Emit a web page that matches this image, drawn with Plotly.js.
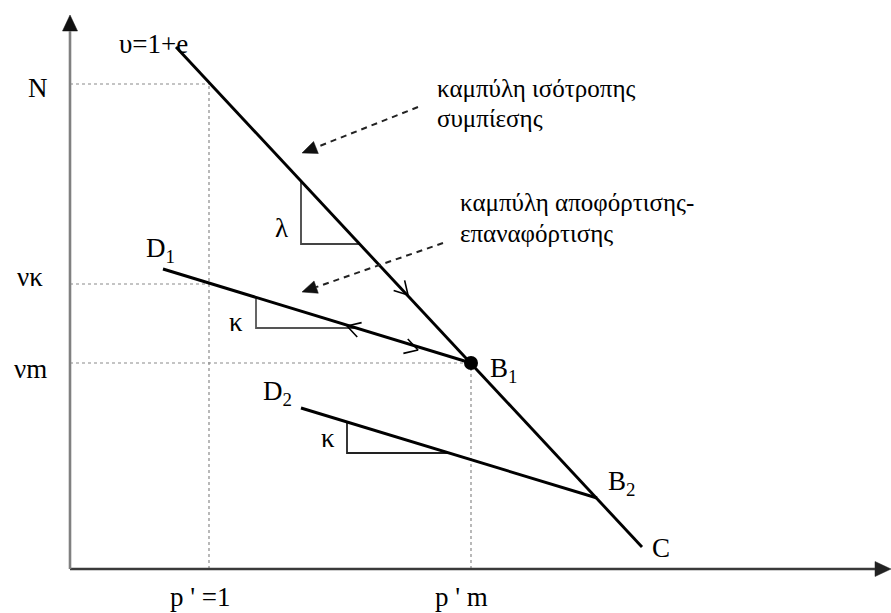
<!DOCTYPE html>
<html>
<head>
<meta charset="utf-8">
<script src="https://cdn.plot.ly/plotly-3.0.1.min.js"></script>
<style>
  html, body { margin: 0; padding: 0; background: #fff; }
  #plot { width: 891px; height: 613px; }
</style>
</head>
<body>
<div id="plot"></div>
<script>
// Schematic v – p' plane (arbitrary units, origin at the axes corner)

// Normal (isotropic) compression line, from the υ=1+e end down to C
const nclX = [1.06, 5.72];
const nclY = [5.22, 0.22];

// Unloading–reloading line D1 – B1
const url1X = [0.93, 4.01];
const url1Y = [3.00, 2.06];

// Unloading–reloading line D2 – B2
const url2X = [2.31, 5.27];
const url2Y = [1.61, 0.71];

// Point B1 (p'm, νm)
const b1X = [4.01];
const b1Y = [2.06];

// Reference levels
const levelN = 4.85;      // N
const levelVk = 2.85;     // νκ
const pUnit = 1.39;       // p' = 1

// Slope triangles
const lambdaTriX = [2.31, 2.31, 2.90];
const lambdaTriY = [3.88, 3.25, 3.25];
const kappa1TriX = [1.86, 1.86, 2.86];
const kappa1TriY = [2.72, 2.41, 2.41];
const kappa2TriX = [2.77, 2.77, 3.79];
const kappa2TriY = [1.47, 1.16, 1.16];

// Direction chevrons on the lines: tip position and the line they sit on
const chevronX = [3.38, 2.77, 3.48];
const chevronY = [2.74, 2.43, 2.19];
const chevronLine = ['ncl', 'url1Back', 'url1'];

// Dashed pointer arrows (start -> tip)
const pointerStartX = [3.48, 3.73];
const pointerStartY = [4.62, 3.26];
const pointerTipX = [2.32, 2.32];
const pointerTipY = [4.16, 2.77];

// Text labels
const labelText = ['υ=1+e', 'N', 'λ', 'D<sub>1</sub>', 'νκ', 'κ', 'νm', 'B<sub>1</sub>',
                   'D<sub>2</sub>', 'κ', 'B<sub>2</sub>', 'C', "p ' =1", "p ' m"];
const labelX = [0.83, -0.32, 2.11, 0.90, -0.40, 1.66, -0.40, 4.33, 2.07, 2.58, 5.51, 5.91, 1.30, 3.91];
const labelY = [5.25, 4.81, 3.41, 3.19, 2.92, 2.47, 2.00, 1.99, 1.76, 1.31, 0.86, 0.21, -0.28, -0.28];

const noteText = ['καμπύλη ισότροπης', 'συμπίεσης', 'καμπύλη αποφόρτισης-', 'επαναφόρτισης'];
const noteX = [3.65, 3.65, 3.88, 3.88];
const noteY = [4.81, 4.51, 3.67, 3.36];

// Axis extents (arrow tips)
const xAxisEnd = 8.21;
const yAxisEnd = 5.54;

const serif = '"Liberation Serif", "Times New Roman", "DejaVu Serif", serif';
const traces = [];

function line(x, y, color, width, dash) {
  traces.push({
    type: 'scatter', mode: 'lines', x: x, y: y, hoverinfo: 'skip',
    line: { color: color, width: width, dash: dash || 'solid' }
  });
}

// filled arrowhead with its tip at (tx, ty), pointing along (dx, dy)
function head(tx, ty, dx, dy, len, half, color) {
  const n = Math.hypot(dx, dy);
  const ux = dx / n, uy = dy / n;
  const bx = tx - len * ux, by = ty - len * uy;
  traces.push({
    type: 'scatter', mode: 'lines', hoverinfo: 'skip', fill: 'toself', fillcolor: color,
    x: [tx, bx - half * uy, bx + half * uy, tx],
    y: [ty, by + half * ux, by - half * ux, ty],
    line: { color: color, width: 0.5 }
  });
  return [bx, by];
}

// dotted guide lines
const guide = '#8a8a8a';
line([0, pUnit], [levelN, levelN], guide, 1.2, 'dot');
line([pUnit, pUnit], [0, levelN], guide, 1.2, 'dot');
line([0, pUnit], [levelVk, levelVk], guide, 1.2, 'dot');
line([0, b1X[0]], [b1Y[0], b1Y[0]], guide, 1.2, 'dot');
line([b1X[0], b1X[0]], [0, b1Y[0]], guide, 1.2, 'dot');

// axes
const xBase = head(xAxisEnd, 0, 1, 0, 0.16, 0.075, '#222');
line([0, xBase[0]], [0, 0], '#3a3a3a', 2.6);
const yBase = head(0, yAxisEnd, 0, 1, 0.16, 0.075, '#111');
line([0, 0], [0, yBase[1]], '#808080', 2.6);

// slope triangles
line(lambdaTriX, lambdaTriY, '#444', 1.8);
line(kappa1TriX, kappa1TriY, '#555', 1.8);
line(kappa2TriX, kappa2TriY, '#222', 1.8);

// main lines
line(nclX, nclY, '#000', 2.9);
line(url1X, url1Y, '#000', 2.9);
line(url2X, url2Y, '#000', 2.9);

// chevrons
const dirs = {
  ncl: [nclX[1] - nclX[0], nclY[1] - nclY[0]],
  url1: [url1X[1] - url1X[0], url1Y[1] - url1Y[0]],
  url1Back: [url1X[0] - url1X[1], url1Y[0] - url1Y[1]]
};
const wing = 0.15, spread = Math.PI / 6;
chevronX.forEach(function (cx, i) {
  const d = dirs[chevronLine[i]];
  const ang = Math.atan2(d[1], d[0]);
  const cy = chevronY[i];
  const a1 = ang + Math.PI - spread, a2 = ang + Math.PI + spread;
  line([cx + wing * Math.cos(a1), cx, cx + wing * Math.cos(a2)],
       [cy + wing * Math.sin(a1), cy, cy + wing * Math.sin(a2)], '#000', 1.6);
});

// dashed pointers
pointerStartX.forEach(function (sx, i) {
  const sy = pointerStartY[i], tx = pointerTipX[i], ty = pointerTipY[i];
  const base = head(tx, ty, tx - sx, ty - sy, 0.15, 0.065, '#111');
  line([sx, base[0]], [sy, base[1]], '#222', 2, '6px,5px');
});

// point B1
traces.push({
  type: 'scatter', mode: 'markers', x: b1X, y: b1Y, hoverinfo: 'skip',
  marker: { color: '#000', size: 14 }
});

const annotations = [];
labelText.forEach(function (t, i) {
  annotations.push({
    x: labelX[i], y: labelY[i], xref: 'x', yref: 'y', text: t, showarrow: false,
    xanchor: 'center', yanchor: 'middle',
    font: { family: serif, size: 27, color: '#000' }
  });
});
noteText.forEach(function (t, i) {
  annotations.push({
    x: noteX[i], y: noteY[i], xref: 'x', yref: 'y', text: t, showarrow: false,
    xanchor: 'left', yanchor: 'middle',
    font: { family: serif, size: 25, color: '#000' }
  });
});

const layout = {
  width: 891, height: 613,
  margin: { l: 0, r: 0, t: 0, b: 0 },
  paper_bgcolor: '#fff', plot_bgcolor: '#fff',
  showlegend: false,
  xaxis: { range: [-0.70, 8.21], visible: false, fixedrange: true },
  yaxis: { range: [-0.44, 5.69], visible: false, fixedrange: true },
  annotations: annotations
};

Plotly.newPlot('plot', traces, layout, { staticPlot: true, displayModeBar: false });
</script>
</body>
</html>
